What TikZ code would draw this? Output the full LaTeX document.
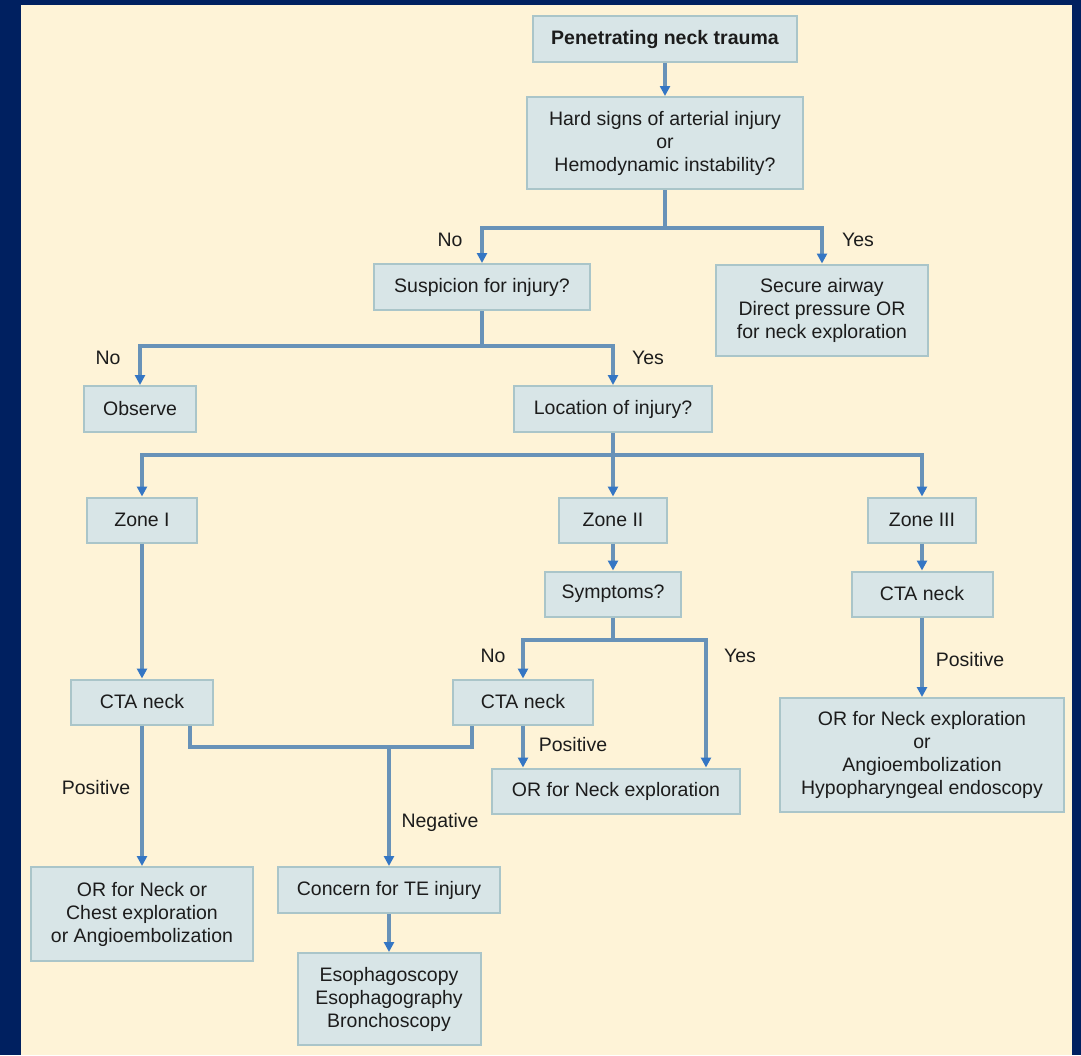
\documentclass[tikz,border=0pt]{standalone}
\usepackage{fontspec}
\setmainfont{Liberation Sans}
\usetikzlibrary{shapes,arrows.meta}
\definecolor{navy}{RGB}{0,32,96}
\definecolor{cream}{RGB}{254,243,215}
\definecolor{boxfill}{RGB}{216,229,231}
\definecolor{boxedge}{RGB}{170,197,201}
\definecolor{wire}{RGB}{104,146,184}
\definecolor{tipblue}{RGB}{52,118,196}
\definecolor{ink}{RGB}{28,28,28}

\begin{document}
\begin{tikzpicture}[x=1pt,y=-1pt,
  box/.style={shape=rectangle,draw=boxedge,fill=boxfill,line width=2pt,align=center,text=ink,font=\fontsize{19.5}{23}\selectfont,inner sep=0pt},
  lab/.style={text=ink,font=\fontsize{19.5}{23}\selectfont,inner sep=0pt},
  wire/.style={draw=wire,line width=3.5pt},
  arr/.style={wire,-{Triangle[width=10pt,length=10pt,color=tipblue]}}]
\fill[navy] (0,0) rectangle (1081,1055);
\fill[cream] (21,5) rectangle (1072,1055);

\node[box,minimum width=264pt,minimum height=46pt] (0) at (665,39) {\textbf{Penetrating neck trauma}};
\node[box,minimum width=276pt,minimum height=92pt] (1) at (665,143) {Hard signs of arterial injury\\or\\Hemodynamic instability?};
\node[box,minimum width=216pt,minimum height=46pt] (2) at (482,287) {Suspicion for injury?};
\node[box,minimum width=212pt,minimum height=91pt] (3) at (822,310) {Secure airway\\Direct pressure OR\\for neck exploration};
\node[box,minimum width=112pt,minimum height=46pt] (4) at (140,409) {Observe};
\node[box,minimum width=198pt,minimum height=46pt] (5) at (613,409) {Location of injury?};
\node[box,minimum width=110pt,minimum height=45pt] (6) at (142,520) {Zone I};
\node[box,minimum width=108pt,minimum height=45pt] (7) at (613,520) {Zone II};
\node[box,minimum width=108pt,minimum height=45pt] (8) at (922,520) {Zone III};
\node[box,minimum width=136pt,minimum height=45pt] (9) at (613,594) {Symptoms?};
\node[box,minimum width=142pt,minimum height=45pt] (10) at (142,702) {CTA neck};
\node[box,minimum width=140pt,minimum height=45pt] (11) at (523,702) {CTA neck};
\node[box,minimum width=141pt,minimum height=45pt] (12) at (922,594) {CTA neck};
\node[box,minimum width=248pt,minimum height=45pt] (13) at (616,791) {OR for Neck exploration};
\node[box,minimum width=284pt,minimum height=114pt] (14) at (922,755) {OR for Neck exploration\\or\\Angioembolization\\Hypopharyngeal endoscopy};
\node[box,minimum width=222pt,minimum height=94pt] (15) at (142,914) {OR for Neck or\\Chest exploration\\or Angioembolization};
\node[box,minimum width=222pt,minimum height=46pt] (16) at (389,890) {Concern for TE injury};
\node[box,minimum width=183pt,minimum height=92pt] (17) at (389,999) {Esophagoscopy\\Esophagography\\Bronchoscopy};

\coordinate (a) at (665,228);
\coordinate (b) at (482,346);
\coordinate (c) at (613,455);
\coordinate (d) at (613,640);
\coordinate (e) at (389,747);

\draw[arr] (0.south) -- (1.north);
\draw[wire] (1.south) -- (a);
\draw[arr] (a) -| (2.north);
\draw[arr] (a) -| (3.north);
\draw[wire] (2.south) -- (b);
\draw[arr] (b) -| (4.north);
\draw[arr] (b) -| (5.north);
\draw[wire] (5.south) -- (c);
\draw[arr] (c) -| (6.north);
\draw[arr] (c) -- (7.north);
\draw[arr] (c) -| (8.north);
\draw[arr] (6.south) -- (10.north);
\draw[arr] (7.south) -- (9.north);
\draw[wire] (9.south) -- (d);
\draw[arr] (d) -| (11.north);
\draw[arr] (d) -| ([xshift=90pt]13.north);
\draw[arr] (11.south) -- (11.south |- 13.north);
\draw[arr] (8.south) -- (12.north);
\draw[arr] (12.south) -- (14.north);
\draw[arr] (10.south) -- (15.north);
\draw[wire] ([xshift=48pt]10.south) |- (e) -| ([xshift=-51pt]11.south);
\draw[arr] (e) -- (16.north);
\draw[arr] (16.south) -- (17.north);

\node[lab] (18) at (450,240) {No};
\node[lab] (19) at (858,240) {Yes};
\node[lab] (20) at (108,358) {No};
\node[lab] (21) at (648,358) {Yes};
\node[lab] (22) at (493,656) {No};
\node[lab] (23) at (740,656) {Yes};
\node[lab] (24) at (96,788) {Positive};
\node[lab] (25) at (573,745) {Positive};
\node[lab] (26) at (440,822) {Negative};
\node[lab] (27) at (970,660) {Positive};
\end{tikzpicture}
\end{document}
